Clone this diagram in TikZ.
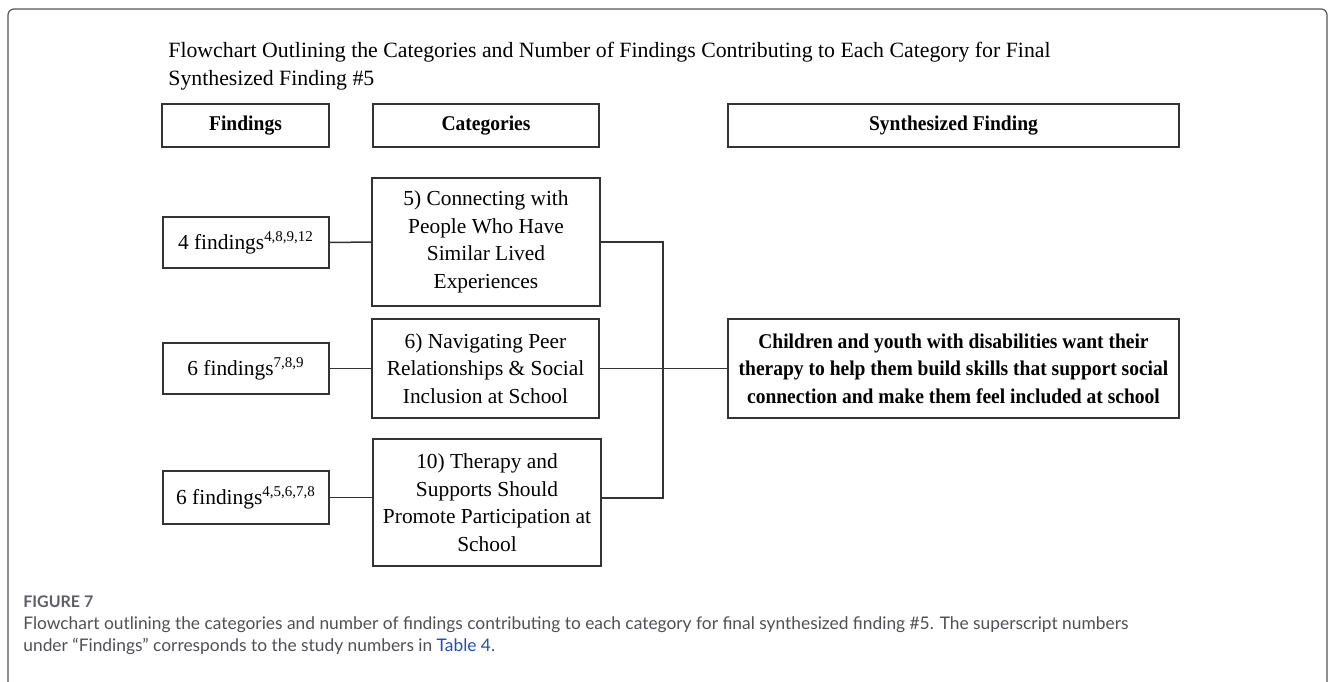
\documentclass[tikz,border=0pt]{standalone}
\usepackage{fontspec}
\setmainfont{Liberation Serif}[BoldFeatures={FakeStretch=0.93}]
\newfontfamily\capfont{Lato}
\definecolor{linec}{HTML}{333333}
\definecolor{framec}{HTML}{555555}
\definecolor{capgray}{HTML}{4F4F55}
\definecolor{labgray}{HTML}{5E5E66}
\definecolor{linkblue}{HTML}{1F4FB4}
\begin{document}
\begin{tikzpicture}[x=0.5pt,y=-0.5pt,
  box/.style={draw=linec, line width=0.75pt, inner sep=0pt, align=center,
    font=\fontsize{10.7}{13.75}\selectfont},
  head/.style={box, font=\fontsize{10.5}{13.75}\selectfont\bfseries, minimum height=21.5pt},
  conn/.style={draw=linec, line width=0.75pt}]
\useasboundingbox (0,0) rectangle (1335,681);
% outer frame of the figure panel
\draw[framec, line width=0.6pt, rounded corners=3pt] (8,9) rectangle (1327,720);

% title (base anchor sits on the last line)
\node[anchor=base west, inner sep=0pt, align=left,
  font=\fontsize{10.9}{13.9}\selectfont] (title) at (168,85)
  {Flowchart Outlining the Categories and Number of Findings Contributing to Each Category for Final\\
   Synthesized Finding \#5};

% column headers
\node[head, minimum width=83.5pt] (hF) at (245.5,125.5) {Findings};
\node[head, minimum width=113pt] (hC) at (486,125.5) {Categories};
\node[head, minimum width=225.5pt] (hS) at (953.5,125.5) {Synthesized Finding};

% findings
\node[box, minimum width=83pt, minimum height=25.5pt] (f1) at (246,242.5) {4 findings\textsuperscript{4,8,9,12}};
\node[box, minimum width=83pt, minimum height=25.5pt] (f2) at (246,368.5) {6 findings\textsuperscript{7,8,9}};
\node[box, minimum width=83pt, minimum height=26.5pt] (f3) at (246,497.5) {6 findings\textsuperscript{4,5,6,7,8}};

% categories
\node[box, minimum width=114pt, minimum height=64pt] (c1) at (486,242)
  {5) Connecting with\\People Who Have\\Similar Lived\\Experiences};
\node[box, minimum width=113.5pt, minimum height=49.5pt] (c2) at (485.5,368.5)
  {6) Navigating Peer\\Relationships \& Social\\Inclusion at School};
\node[box, minimum width=114pt, minimum height=63.5pt] (c3) at (487,502.5)
  {10) Therapy and\\Supports Should\\Promote Participation at\\School};

% synthesized finding
\node[box, font=\fontsize{10.5}{13.75}\selectfont\bfseries, minimum width=225.5pt, minimum height=49.5pt] (s) at (953.5,368.5)
  {Children and youth with disabilities want their\\therapy to help them build skills that support social\\connection and make them feel included at school};

% connectors
\coordinate (bt) at (663,242);
\coordinate (bb) at (663,498);
\draw[conn] (f1.east) -- (c1.west);
\draw[conn] (f2.east) -- (c2.west);
\draw[conn] (f3.east) -- (f3.east -| c3.west);
\draw[conn] (c1.east) -- (bt) -- (bb) -- (bb -| c3.east);
\draw[conn] (c2.east) -- (s.west);

% caption
\node[anchor=base west, inner sep=0pt, text=labgray,
  font=\capfont\fontsize{8}{10}\selectfont\bfseries] (figlab) at (23,607) {FIGURE 7};
\node[anchor=base west, inner sep=0pt, align=left, text=capgray,
  font=\capfont\fontsize{8.68}{10.6}\selectfont] (cap) at (23,651)
  {Flowchart outlining the categories and number of findings contributing to each category for final synthesized finding \#5. The superscript numbers\\
   under \textquotedblleft Findings\textquotedblright\ corresponds to the study numbers in \textcolor{linkblue}{Table 4}.};
\end{tikzpicture}
\end{document}
